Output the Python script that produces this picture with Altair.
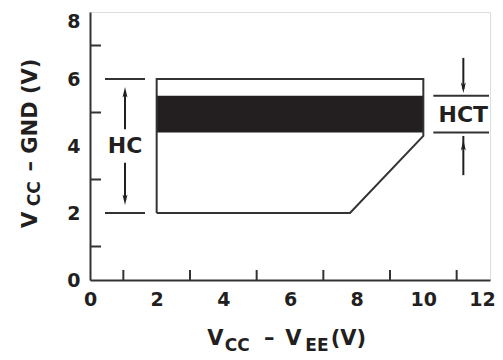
import altair as alt
import pandas as pd

# ---- data ----
outline_x = [2, 2, 10, 10, 7.8, 2]
outline_y = [2, 6, 6, 4.3, 2, 2]
band = {"x": 2, "x2": 10, "y": 4.4, "y2": 5.5}

x_labels = [0, 2, 4, 6, 8, 10, 12]
y_labels = [0, 2, 4, 6, 8]
x_minor = [1, 3, 5, 7, 9, 11]
y_minor = [1, 3, 5, 7]

# horizontal dimension lines (x, x2, y)
dim_x = [0.45, 0.45, 10.3, 10.3]
dim_x2 = [1.65, 1.65, 11.97, 11.97]
dim_y = [6, 2, 5.5, 4.4]

# arrow shafts (x, y, y2)
shaft_x = [1.05, 1.05, 11.2, 11.2]
shaft_y = [4.5, 3.5, 6.63, 3.13]
shaft_y2 = [5.6, 2.4, 5.7, 4.3]

# arrow heads (tip positions)
head_x = [1.05, 1.05, 11.2, 11.2]
head_y = [5.76, 2.24, 5.58, 4.18]
head_dir = ["up", "down", "down", "up"]

ann_text = ["HC", "HCT"]
ann_x = [1.05, 11.2]
ann_y = [4.0, 4.93]

# axis titles with subscripts
xt_text = ["V", "CC", "\u2013", "V", "EE", "(V)"]
xt_x = [3.52, 4.04, 5.22, 5.86, 6.46, 7.22]
xt_sub = [False, True, False, False, True, False]

yt_text = ["V", "CC", "\u2013 GND (V)"]
yt_y = [1.55, 2.2, 3.24]
yt_sub = [False, True, False]

INK = "#231f20"
LINE = "#333333"
FONT = "DejaVu Sans"

xs = alt.Scale(domain=[0, 12], nice=False, zero=False)
ys = alt.Scale(domain=[0, 8], nice=False, zero=False)

axis_common = dict(
    grid=False, ticks=False, tickSize=0, domainColor=LINE, domainWidth=2,
    labelFont=FONT, labelFontWeight="bold", labelFontSize=19, labelColor=INK,
    title=None, labelFlush=False,
)

band_df = pd.DataFrame([band])
band_layer = alt.Chart(band_df).mark_rect(color=INK).encode(
    x=alt.X("x:Q", scale=xs, axis=alt.Axis(
        values=x_labels, labelPadding=10,
        labelOffset=alt.condition("datum.value == 12", alt.value(-8), alt.value(0)),
        **axis_common)),
    x2="x2:Q",
    y=alt.Y("y:Q", scale=ys, axis=alt.Axis(
        values=y_labels, labelPadding=10,
        labelBaseline=alt.condition("datum.value == 8", alt.value("top"), alt.value("middle")),
        **axis_common)),
    y2="y2:Q",
)

out_df = pd.DataFrame({"x": outline_x, "y": outline_y, "o": list(range(len(outline_x)))})
outline = alt.Chart(out_df).mark_line(color=LINE, strokeWidth=2).encode(
    x=alt.X("x:Q", scale=xs), y=alt.Y("y:Q", scale=ys), order="o:Q"
)

xt_df = pd.DataFrame({"v": x_minor, "a": 0, "b": 0.3})
xticks = alt.Chart(xt_df).mark_rule(color=LINE, strokeWidth=2).encode(
    x=alt.X("v:Q", scale=xs), y=alt.Y("a:Q", scale=ys), y2="b:Q"
)
yt_df = pd.DataFrame({"v": y_minor, "a": 0, "b": 0.33})
yticks = alt.Chart(yt_df).mark_rule(color=LINE, strokeWidth=2).encode(
    y=alt.Y("v:Q", scale=ys), x=alt.X("a:Q", scale=xs), x2="b:Q"
)

dim_df = pd.DataFrame({"x": dim_x, "x2": dim_x2, "y": dim_y})
dims = alt.Chart(dim_df).mark_rule(color=LINE, strokeWidth=2).encode(
    x=alt.X("x:Q", scale=xs), x2="x2:Q", y=alt.Y("y:Q", scale=ys)
)

sh_df = pd.DataFrame({"x": shaft_x, "y": shaft_y, "y2": shaft_y2})
shafts = alt.Chart(sh_df).mark_rule(color=INK, strokeWidth=2).encode(
    x=alt.X("x:Q", scale=xs), y=alt.Y("y:Q", scale=ys), y2="y2:Q"
)

UP = "M0,0L0.5,2.1L0,1.6L-0.5,2.1Z"
DOWN = "M0,0L0.5,-2.1L0,-1.6L-0.5,-2.1Z"
hd_df = pd.DataFrame({"x": head_x, "y": head_y, "d": head_dir})
heads_up = alt.Chart(hd_df).transform_filter("datum.d == 'up'").mark_point(
    shape=UP, filled=True, color=INK, size=100, opacity=1, strokeWidth=0
).encode(x=alt.X("x:Q", scale=xs), y=alt.Y("y:Q", scale=ys))
heads_dn = alt.Chart(hd_df).transform_filter("datum.d == 'down'").mark_point(
    shape=DOWN, filled=True, color=INK, size=100, opacity=1, strokeWidth=0
).encode(x=alt.X("x:Q", scale=xs), y=alt.Y("y:Q", scale=ys))

ann_df = pd.DataFrame({"t": ann_text, "x": ann_x, "y": ann_y})
ann = alt.Chart(ann_df).mark_text(
    font=FONT, fontWeight="bold", fontSize=22, color=INK, align="center", baseline="middle"
).encode(x=alt.X("x:Q", scale=xs), y=alt.Y("y:Q", scale=ys), text="t:N")

xt_title_df = pd.DataFrame({
    "t": xt_text, "x": xt_x,
    "y": [-2.12 if s else -1.95 for s in xt_sub],
    "fs": [17 if s else 21 for s in xt_sub],
})
xtitle = alt.Chart(xt_title_df).mark_text(
    font=FONT, fontWeight="bold", color=INK, align="left", baseline="alphabetic"
).encode(
    x=alt.X("x:Q", scale=xs), y=alt.Y("y:Q", scale=ys), text="t:N",
    size=alt.Size("fs:Q", scale=None, legend=None),
)

yt_title_df = pd.DataFrame({
    "t": yt_text, "y": yt_y,
    "x": [-1.5 if s else -1.59 for s in yt_sub],
    "fs": [17 if s else 21 for s in yt_sub],
})
ytitle = alt.Chart(yt_title_df).mark_text(
    font=FONT, fontWeight="bold", color=INK, align="left", baseline="alphabetic", angle=270
).encode(
    x=alt.X("x:Q", scale=xs), y=alt.Y("y:Q", scale=ys), text="t:N",
    size=alt.Size("fs:Q", scale=None, legend=None),
)

chart = alt.layer(
    band_layer, outline, xticks, yticks, dims, shafts, heads_up, heads_dn, ann, xtitle, ytitle
).properties(
    width=400, height=268,
    autosize=alt.AutoSizeParams(type="none"),
    padding={"left": 82, "top": 4, "right": 5, "bottom": 78},
).configure_view(stroke=None).configure(background="white")

chart.save("out.html", embed_options={"renderer": "svg", "actions": False})
